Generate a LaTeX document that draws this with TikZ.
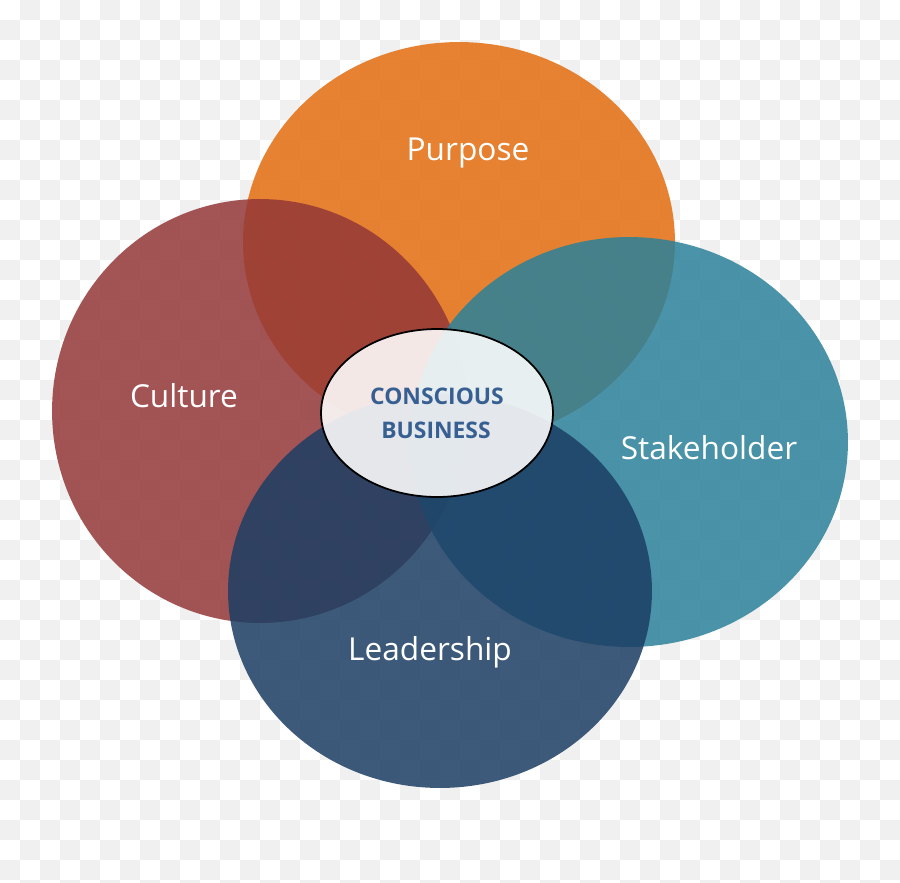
\documentclass[tikz,border=0pt]{standalone}
\usepackage{fontspec}
\setmainfont{Open Sans}
\usepackage{xcolor}
\definecolor{checkgray}{RGB}{240,240,240}
\definecolor{purposeorange}{RGB}{226,109,14}
\definecolor{culturered}{RGB}{148,56,56}
\definecolor{staketeal}{RGB}{43,129,154}
\definecolor{leadblue}{RGB}{28,62,100}
\definecolor{corefont}{RGB}{55,95,145}

\begin{document}
\begin{tikzpicture}[x=0.02cm,y=-0.02cm]
	%\draw[help lines] (0,0) grid (900,883);

	\tikzstyle{checker} = [fill=checkgray]
	\tikzstyle{petal} = [fill opacity=0.85]
	\tikzstyle{vlabel} = [anchor=base,text=white,font=\fontsize{18}{20}\selectfont]
	\tikzstyle{clabel} = [anchor=base,text=corefont,font=\bfseries\fontsize{13}{15}\selectfont]

	\useasboundingbox (0,0) rectangle (900,883);
	\clip (0,0) rectangle (900,883);

	% background squares
	\fill[white] (0,0) rectangle (900,883);
	\foreach \j in {0,...,44} {
		\foreach \i in {0,2,...,44} {
			\fill[checker] ({(\i+mod(\j+1,2))*20},{\j*20}) rectangle +(20,20);
		}
	}

	% the four circles
	\fill[petal,purposeorange] (459,242) ellipse [x radius=4.32cm, y radius=4.0cm];
	\fill[petal,culturered] (260,411) ellipse [x radius=4.16cm, y radius=4.24cm];
	\fill[petal,staketeal] (629,442) ellipse [x radius=4.38cm, y radius=4.10cm];
	\fill[petal,leadblue] (440,591) ellipse [x radius=4.24cm, y radius=3.94cm];

	% centre
	\filldraw[fill=white,fill opacity=0.88,draw=black,line width=1pt] (437,413) ellipse [x radius=2.32cm, y radius=1.68cm];

	\node[vlabel] (purpose) at (468,160) {Purpose};
	\node[vlabel] (culture) at (184,407) {Culture};
	\node[vlabel] (stake) at (709,459) {Stakeholder};
	\node[vlabel] (lead) at (430,660) {Leadership};

	\node[clabel] (conscious) at (437,404) {CONSCIOUS};
	\node[clabel] (business) at (436,438) {BUSINESS};

\end{tikzpicture}
\end{document}
